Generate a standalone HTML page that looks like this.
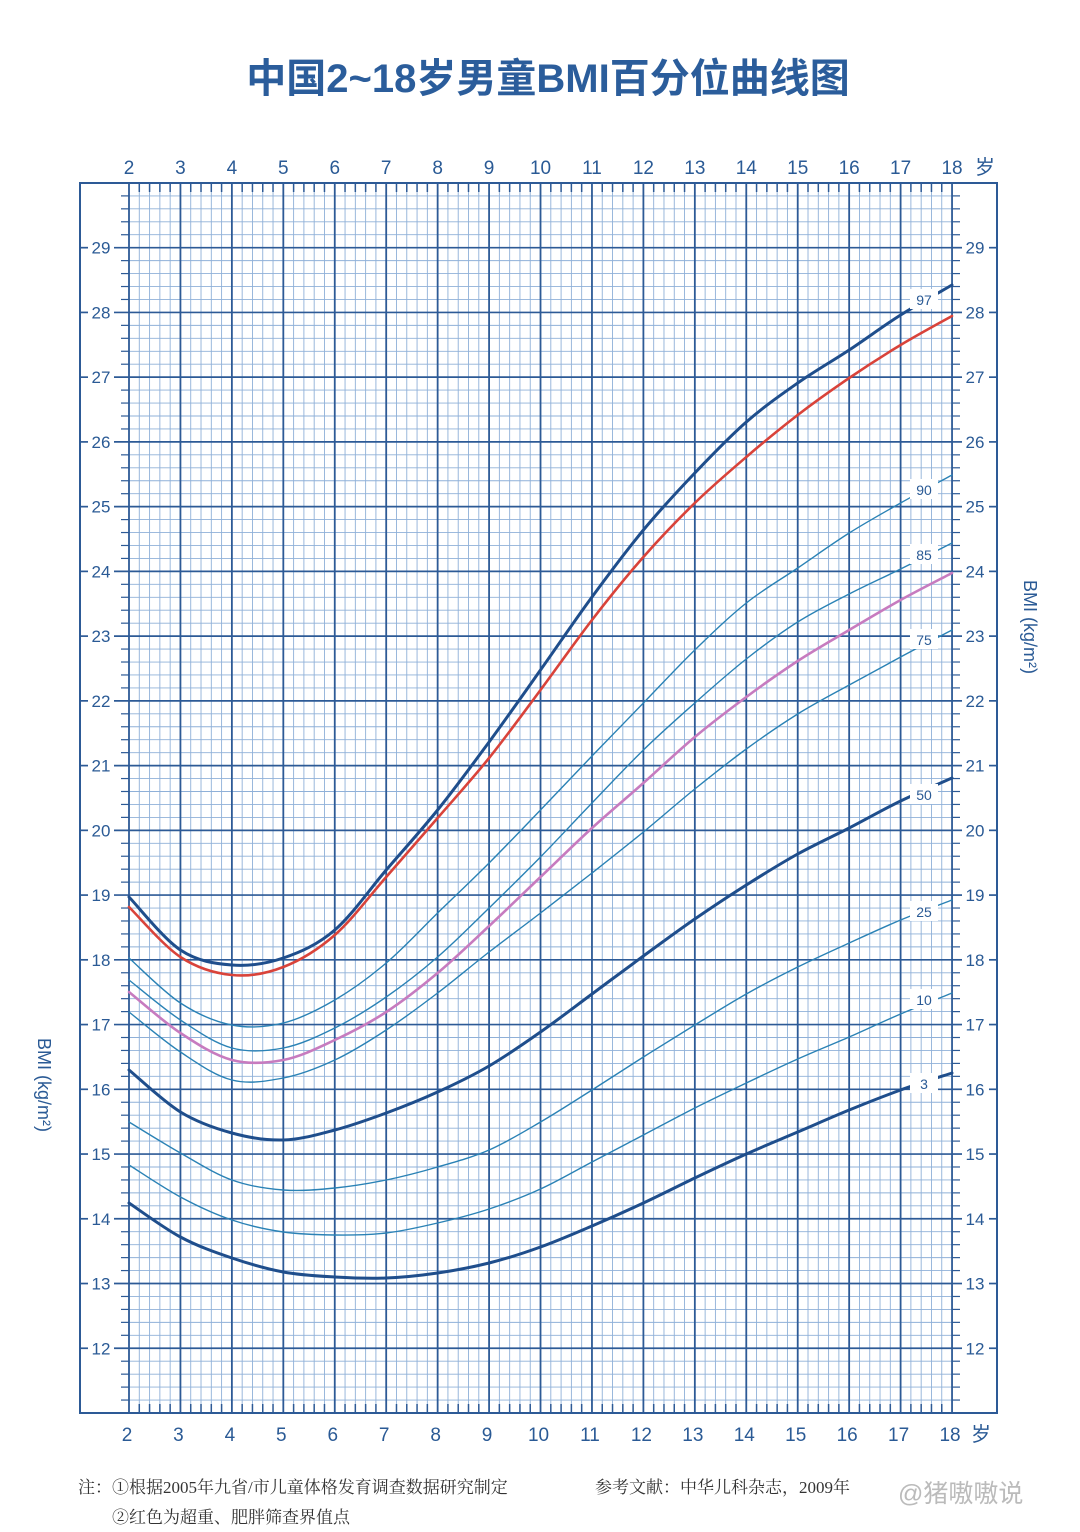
<!DOCTYPE html>
<html><head><meta charset="utf-8">
<style>
html,body{margin:0;padding:0;background:#fff;}
body{width:1080px;height:1532px;overflow:hidden;position:relative;}
svg{position:absolute;left:0;top:0;}
</style></head>
<body>
<svg id="s" width="1080" height="1532" viewBox="0 0 1080 1532" xmlns="http://www.w3.org/2000/svg">
<text x="548" y="92" text-anchor="middle" font-family="Liberation Sans, Noto Sans CJK SC, sans-serif" font-size="40" font-weight="bold" fill="#2b5d9b">中国2~18岁男童BMI百分位曲线图</text>
<g id="grid"></g>
<g id="curves"></g>
<g id="labels" font-family="Liberation Sans, Noto Sans CJK SC, sans-serif" fill="#2a5a95"></g>
<text transform="translate(38,1085) rotate(90)" text-anchor="middle" font-family="Liberation Sans, sans-serif" font-size="18" fill="#2a5a95">BMI (kg/m²)</text>
<text transform="translate(1024,627) rotate(90)" text-anchor="middle" font-family="Liberation Sans, sans-serif" font-size="18" fill="#2a5a95">BMI (kg/m²)</text>
<g font-family="Liberation Serif, Noto Serif CJK SC, serif" font-size="17" fill="#333">
<text x="78" y="1493">注：①根据2005年九省/市儿童体格发育调查数据研究制定</text>
<text x="112" y="1523">②红色为超重、肥胖筛查界值点</text>
<text x="595" y="1493">参考文献：中华儿科杂志，2009年</text>
</g>
<text x="898" y="1502" font-family="Liberation Sans, Noto Sans CJK SC, sans-serif" font-size="25" fill="#bbb">@猪嗷嗷说</text>
</svg>
<script>
(function(){
var NS="http://www.w3.org/2000/svg";
function X(a){return 129+(a-2)*51.44;}
function Y(v){return 1413-(v-11)*64.74;}
function el(p,t,at){var e=document.createElementNS(NS,t);for(var k in at)e.setAttribute(k,at[k]);p.appendChild(e);return e;}
var g=document.getElementById('grid');
var minor="#8fb0d8",major="#2d5a96";
for(var i=0;i<=80;i++){var a=2+i*0.2;if(i%5==0)continue;var x=X(a);
 el(g,'line',{x1:x,y1:183,x2:x,y2:1413,stroke:minor,'stroke-width':0.9});
 el(g,'line',{x1:x,y1:183,x2:x,y2:192,stroke:major,'stroke-width':1.5});
 el(g,'line',{x1:x,y1:1404,x2:x,y2:1413,stroke:major,'stroke-width':1.5});}
for(var j=0;j<=95;j++){var v=11+j*0.2;var y=Y(v);
 if(j%5==0)continue;
 el(g,'line',{x1:X(2),y1:y,x2:X(18),y2:y,stroke:minor,'stroke-width':0.9});
 el(g,'line',{x1:121,y1:y,x2:X(2),y2:y,stroke:major,'stroke-width':1.2});
 el(g,'line',{x1:X(18),y1:y,x2:960,y2:y,stroke:major,'stroke-width':1.2});}
for(var v=12;v<=29;v++){var y=Y(v);
 el(g,'line',{x1:114,y1:y,x2:X(18),y2:y,stroke:major,'stroke-width':1.7});
 el(g,'line',{x1:X(18),y1:y,x2:962,y2:y,stroke:major,'stroke-width':1.7});
 el(g,'line',{x1:80,y1:y,x2:88,y2:y,stroke:major,'stroke-width':1.7});
 el(g,'line',{x1:989,y1:y,x2:997,y2:y,stroke:major,'stroke-width':1.7});}
for(var a=2;a<=18;a++){var x=X(a);el(g,'line',{x1:x,y1:183,x2:x,y2:1413,stroke:major,'stroke-width':1.8});}
el(g,'rect',{x:80,y:183,width:917,height:1230,fill:'none',stroke:major,'stroke-width':2});
var L=document.getElementById('labels');
for(var a=2;a<=18;a++){var x=X(a);
 var t=el(L,'text',{x:x,y:174,'text-anchor':'middle','font-size':19});t.textContent=a;
 t=el(L,'text',{x:x-2,y:1441,'text-anchor':'middle','font-size':19});t.textContent=a;}
var t=el(L,'text',{x:985,y:174,'text-anchor':'middle','font-size':20});t.textContent='岁';
t=el(L,'text',{x:981,y:1441,'text-anchor':'middle','font-size':20});t.textContent='岁';
for(var v=12;v<=29;v++){var y=Y(v);
 t=el(L,'text',{x:101,y:y+6,'text-anchor':'middle','font-size':17});t.textContent=v;
 t=el(L,'text',{x:975,y:y+6,'text-anchor':'middle','font-size':17});t.textContent=v;}
var C=[
 {y:[897,950,965,958,930,870,810,742,670,597,530,473,422,383,350,315,285],c:'#1f4e8c',w:3,lab:'97',ly:300},
 {y:[907,957,975,967,935,877,818,758,690,620,557,503,457,415,378,345,316],c:'#d9433a',w:2.6},
 {y:[958,1003,1025,1023,1000,963,913,863,810,756,703,650,603,568,533,503,475],c:'#2a82b5',w:1.4,lab:'90',ly:490},
 {y:[980,1020,1048,1048,1028,997,957,908,857,803,750,703,659,622,594,569,543],c:'#2a82b5',w:1.4,lab:'85',ly:555},
 {y:[992,1033,1060,1060,1040,1012,973,926,877,828,783,737,697,661,630,600,573],c:'#c77bbf',w:2.6},
 {y:[1012,1052,1080,1078,1060,1030,993,952,913,873,832,789,749,714,685,657,630],c:'#2a82b5',w:1.4,lab:'75',ly:640},
 {y:[1070,1112,1133,1140,1130,1113,1092,1066,1032,994,956,919,885,854,828,801,778],c:'#1f4e8c',w:3,lab:'50',ly:795},
 {y:[1122,1153,1180,1190,1188,1180,1167,1150,1122,1090,1057,1025,994,967,943,920,900],c:'#2a82b5',w:1.4,lab:'25',ly:912},
 {y:[1165,1197,1220,1232,1235,1233,1223,1209,1189,1162,1135,1108,1083,1059,1037,1014,993],c:'#2a82b5',w:1.4,lab:'10',ly:1000},
 {y:[1203,1237,1258,1272,1277,1278,1273,1263,1247,1226,1203,1178,1154,1132,1110,1090,1073],c:'#1f4e8c',w:3,lab:'3',ly:1084}
];
var G=document.getElementById('curves');
C.forEach(function(cv){
 var P=cv.y.map(function(y,i){return [X(2+i),y];});
 var d='M'+P[0][0]+','+P[0][1];
 for(var i=0;i<P.length-1;i++){
  var p0=P[Math.max(0,i-1)],p1=P[i],p2=P[i+1],p3=P[Math.min(P.length-1,i+2)];
  var c1=[p1[0]+(p2[0]-p0[0])/6,p1[1]+(p2[1]-p0[1])/6];
  var c2=[p2[0]-(p3[0]-p1[0])/6,p2[1]-(p3[1]-p1[1])/6];
  d+=' C'+c1[0].toFixed(1)+','+c1[1].toFixed(1)+' '+c2[0].toFixed(1)+','+c2[1].toFixed(1)+' '+p2[0].toFixed(1)+','+p2[1].toFixed(1);
 }
 el(G,'path',{d:d,fill:'none',stroke:cv.c,'stroke-width':cv.w,'stroke-linecap':'round'});
});
C.forEach(function(cv){
 if(!cv.lab)return;
 el(G,'rect',{x:910,y:cv.ly-11,width:28,height:20,fill:'#fff'});
 var t=el(G,'text',{x:924,y:cv.ly+5,'text-anchor':'middle','font-size':14,'font-family':'Liberation Sans, sans-serif',fill:'#2a5a95'});t.textContent=cv.lab;
});
})();
</script>
</body></html>
